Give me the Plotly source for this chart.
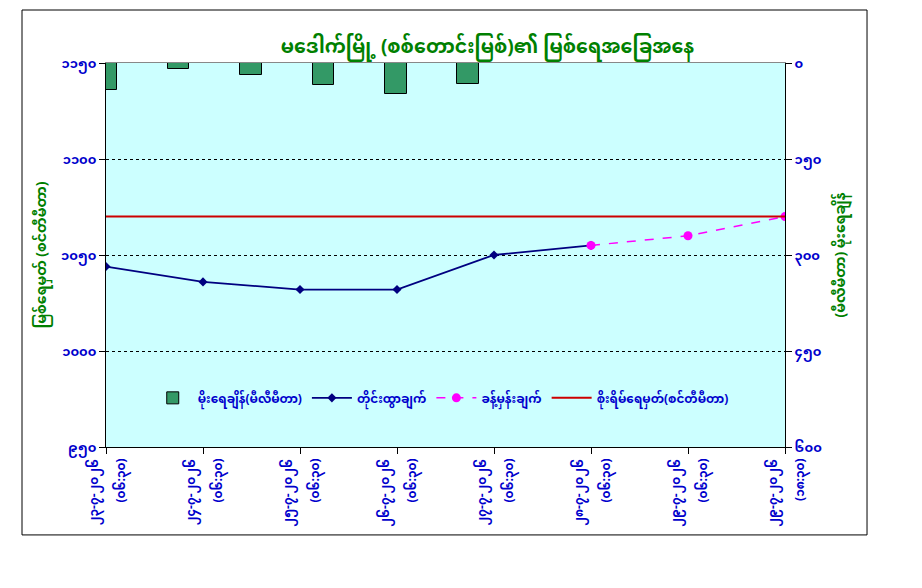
import plotly.graph_objects as go

MM_FONT = "Noto Sans Myanmar, Padauk, Myanmar Text, Noto Sans, DejaVu Sans, sans-serif"

# ---- data ----
categories = ["c1", "c2", "c3", "c4", "c5", "c6", "c7", "c8"]
date_labels = ["၂၃-၇-၂၀၂၆", "၂၄-၇-၂၀၂၆", "၂၅-၇-၂၀၂၆", "၂၆-၇-၂၀၂၆",
               "၂၇-၇-၂၀၂၆", "၂၈-၇-၂၀၂၆", "၂၉-၇-၂၀၂၆", "၂၉-၇-၂၀၂၆"]
time_labels = ["(၀၆:၃၀)", "(၀၆:၃၀)", "(၀၆:၃၀)", "(၀၆:၃၀)",
               "(၀၆:၃၀)", "(၀၆:၃၀)", "(၀၆:၃၀)", "(၁၈:၃၀)"]
measured = [1044, 1036, 1032, 1032, 1050, 1055, None, None]
forecast = [None, None, None, None, None, 1055, 1060, 1070]
danger = [1070, 1070, 1070, 1070, 1070, 1070, 1070, 1070]
rain_idx = [0, 1, 2, 3, 4, 5]
rainfall = [42, 10, 19, 35, 49, 33]

left_tickvals = [950, 1000, 1050, 1100, 1150]
left_ticktext = ["၉၅၀", "၁၀၀၀", "၁၀၅၀", "၁၁၀၀", "၁၁၅၀"]
right_tickvals = [0, 150, 300, 450, 600]
right_ticktext = ["၀", "၁၅၀", "၃၀၀", "၄၅၀", "၆၀၀"]

title_text = "မဒေါက်မြို့ (စစ်တောင်းမြစ်)၏ မြစ်ရေအခြေအနေ"
left_title = "မြစ်ရေမှတ် (စင်တီမီတာ)"
right_title = "(မီလီမီတာ) မိုးရေချိန်"
legend_names = ["မိုးရေချိန်(မီလီမီတာ)", "တိုင်းထွာချက်", "ခန့်မှန်းချက်", "စိုးရိမ်ရေမှတ်(စင်တီမီတာ)"]

BLUE = "#0000CC"
GREEN = "#008000"

def b(s):
    return "<b>" + s + "</b>"

fig = go.Figure()

fig.add_trace(go.Bar(
    x=rain_idx, y=rainfall, xaxis="x2", yaxis="y2", width=0.3,
    marker=dict(color="#339966", line=dict(color="black", width=1)),
    name=b(legend_names[0]),
))
fig.add_trace(go.Scatter(
    x=categories, y=measured, mode="lines+markers",
    line=dict(color="#000080", width=1.8),
    marker=dict(symbol="diamond", size=7, color="#000080"),
    name=b(legend_names[1]),
))
fig.add_trace(go.Scatter(
    x=categories, y=forecast, mode="lines+markers",
    line=dict(color="#FF00FF", width=1.5, dash="dash"),
    marker=dict(symbol="circle", size=9, color="#FF00FF"),
    name=b(legend_names[2]),
))
fig.add_trace(go.Scatter(
    x=categories, y=danger, mode="lines",
    line=dict(color="#CC0000", width=2),
    name=b(legend_names[3]),
))

tickfont = dict(size=13, color=BLUE, family=MM_FONT)
xtickfont = dict(size=12, color=BLUE, family=MM_FONT)

fig.update_layout(
    width=922, height=588,
    margin=dict(l=98, r=145, t=55, b=149),
    paper_bgcolor="white",
    plot_bgcolor="#CCFFFF",
    font=dict(family=MM_FONT, color=BLUE, size=12),
    title=dict(text=b(title_text), x=0.52, xanchor="center", y=0.935, yanchor="middle",
               font=dict(size=19, color=GREEN, family=MM_FONT)),
    showlegend=True,
    legend=dict(orientation="h", x=0.493, xanchor="center", y=0.128, yanchor="middle",
                bgcolor="rgba(0,0,0,0)", font=dict(size=12, color=BLUE, family=MM_FONT),
                traceorder="normal", itemwidth=40),
    xaxis=dict(
        type="category", categoryarray=categories, range=[0, 7], showgrid=False,
        tickvals=categories, ticktext=[b(t) for t in date_labels],
        showline=True, linecolor="black", linewidth=1,
        ticks="outside", ticklen=6, tickcolor="black", tickangle=-90,
        ticklabelshift=-12, ticklabelstandoff=0,
        tickfont=xtickfont, zeroline=False,
    ),
    xaxis3=dict(
        type="category", categoryarray=categories, overlaying="x", side="bottom", anchor="y",
        range=[0, 7], showgrid=False, showline=False, ticks="",
        tickvals=categories, ticktext=[b(t) for t in time_labels],
        tickangle=-90, ticklabelshift=15, ticklabelstandoff=8,
        tickfont=xtickfont, zeroline=False,
    ),
    xaxis2=dict(
        overlaying="x", side="top", anchor="y", range=[0, 9.37],
        showline=True, linecolor="#888888", linewidth=1,
        showticklabels=False, ticks="", showgrid=False, zeroline=False,
    ),
    yaxis=dict(
        range=[950, 1150], tickvals=left_tickvals, ticktext=[b(t) for t in left_ticktext],
        showgrid=True, gridcolor="black", griddash="3px,3px", gridwidth=1,
        showline=True, linecolor="black", linewidth=1,
        ticks="outside", ticklen=6, tickcolor="black",
        tickfont=tickfont,
        title=dict(text=b(left_title), font=dict(size=14, color=GREEN, family=MM_FONT), standoff=11),
        zeroline=False,
    ),
    yaxis2=dict(
        overlaying="y", side="right", anchor="x", range=[600, 0],
        tickvals=right_tickvals, ticktext=[b(t) for t in right_ticktext],
        showgrid=False, showline=True, linecolor="black", linewidth=1,
        ticks="outside", ticklen=6, tickcolor="black",
        tickfont=tickfont,
        title=dict(text=b(right_title), font=dict(size=14, color=GREEN, family=MM_FONT), standoff=14),
        zeroline=False,
    ),
    bargap=0,
)

# a hidden trace keeps the time-label axis active
fig.add_trace(go.Scatter(x=categories, y=danger, xaxis="x3", mode="lines",
                         line=dict(width=0), hoverinfo="skip", showlegend=False))

# outer frame around the chart
fig.add_shape(type="rect", xref="paper", yref="paper",
              x0=-0.1237, x1=1.1208, y0=-0.229, y1=1.138,
              line=dict(color="black", width=1), fillcolor="rgba(0,0,0,0)", layer="above")

fig.write_html("out.html")
